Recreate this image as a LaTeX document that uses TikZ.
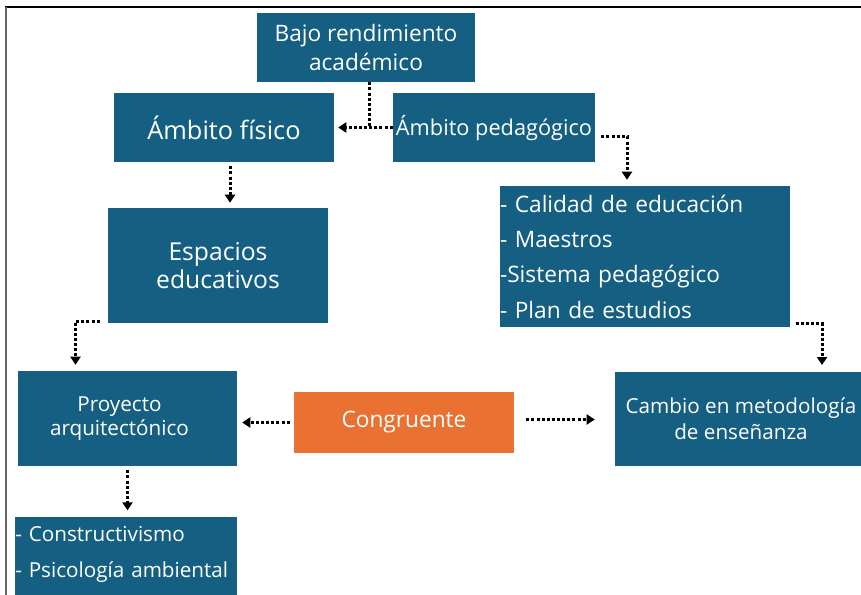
\documentclass[tikz,border=0pt]{standalone}
\usepackage{fontspec}
\setmainfont{Open Sans}
\usepackage{xcolor}
\usepackage{tikz}
\usetikzlibrary{arrows.meta}
\usetikzlibrary{positioning}

\definecolor{cajaazul}{HTML}{156082}
\definecolor{cajanaranja}{HTML}{E97132}

\begin{document}
\begin{tikzpicture}[x=0.75pt, y=-0.75pt,
      caja/.style = {shape=rectangle, fill=cajaazul, text=white,
        align=center, inner sep=2pt,
        font=\fontsize{17}{21.5}\selectfont},
      lista/.style = {caja, align=left, inner xsep=0pt,
        font=\fontsize{17}{26.5}\selectfont},
      enlace/.style = {draw=black, line width=2.25pt,
        dash pattern=on 2.25pt off 1.6pt,
        -{Triangle[length=6pt, width=7.5pt]}},
      union/.style = {draw=black, line width=2.25pt,
        dash pattern=on 2.25pt off 1.6pt}]
      \clip (0,0) rectangle (861,595);
      \fill[white] (0,0) rectangle (861,595);
      % marco de la figura
      \draw[black, line width=0.9pt] (5,7) -- (861,7);
      \draw[black!60, line width=1.1pt] (6,7) -- (6,595);

      \node[caja, minimum width=163.5pt, minimum height=51.75pt]
        (bajo) at (366,47.5) {Bajo rendimiento\\acad\'emico};
      \node[caja, minimum width=165pt, minimum height=51.75pt,
        font=\fontsize{19}{22}\selectfont]
        (fisico) at (224,127.5) {\'Ambito f\'isico};
      \node[caja, minimum width=151.5pt, minimum height=51.75pt,
        font=\fontsize{16.3}{21}\selectfont]
        (pedagogico) at (494,127.5) {\'Ambito pedag\'ogico};
      \node[caja, minimum width=165pt, minimum height=86.25pt,
        font=\fontsize{18.5}{21.5}\selectfont]
        (espacios) at (218,265.5) {Espacios\\educativos};
      \node[lista, text width=217.5pt, minimum height=105.75pt]
        (temas) at (645,256.5) {- Calidad de educaci\'on\\- Maestros\\-Sistema pedag\'ogico\\- Plan de estudios};
      \node[caja, minimum width=164.25pt, minimum height=71.25pt,
        font=\fontsize{15.5}{18}\selectfont]
        (proyecto) at (127.5,418.5) {Proyecto\hspace*{12pt}\\arquitect\'onico\hspace*{12pt}};
      \node[caja, fill=cajanaranja, minimum width=165pt, minimum height=45.75pt,
        font=\fontsize{17}{21}\selectfont]
        (congruente) at (404,422.5) {Congruente};
      \node[caja, minimum width=189pt, minimum height=70.5pt,
        font=\fontsize{15.5}{19.5}\selectfont]
        (cambio) at (741,419) {Cambio en metodolog\'ia\\de ense\~nanza};
      \node[lista, anchor=north west, text width=166.5pt, inner ysep=7pt,
        font=\fontsize{15.5}{26.5}\selectfont]
        (bases) at (15,517) {- Constructivismo\\- Psicolog\'ia ambiental\\ \strut};

      % conectores
      \draw[union] ([xshift=2.25pt]bajo.south) -- ([xshift=2.25pt]bajo.south |- fisico.east);
      \draw[enlace, shorten >=3pt] (pedagogico.west) -- (fisico.east);
      \draw[enlace, shorten <=4.5pt, shorten >=4.5pt]
        ([yshift=-6.75pt]pedagogico.east) -| ([xshift=-13.5pt]temas.north);
      \draw[enlace, shorten <=3pt, shorten >=3.75pt]
        ([xshift=4.5pt]fisico.south) -- ([xshift=4.5pt]fisico.south |- espacios.north);
      \draw[enlace, shorten <=6pt, shorten >=4.5pt]
        ([yshift=1.5pt]espacios.south west) -| ([xshift=-39pt]proyecto.north);
      \draw[enlace, shorten <=4pt, shorten >=5pt]
        ([yshift=3pt]temas.south east) -| ([xshift=60.75pt]cambio.north);
      \draw[enlace, shorten <=3pt, shorten >=3.75pt]
        (congruente.west) -- (congruente.west -| proyecto.east);
      \draw[enlace, shorten <=9pt, shorten >=15pt]
        ([yshift=2.25pt]congruente.east) -- ([yshift=2.25pt]congruente.east -| cambio.west);
      \draw[enlace, shorten <=3pt, shorten >=5pt]
        (proyecto.south) -- (bases.north -| proyecto.south);
    \end{tikzpicture}
\end{document}
